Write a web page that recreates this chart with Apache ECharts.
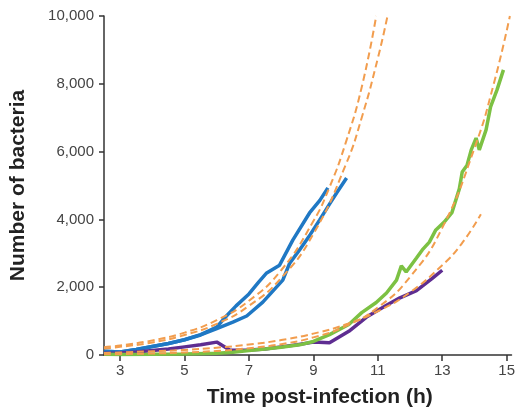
<!DOCTYPE html>
<html>
<head>
<meta charset="utf-8">
<script src="https://cdn.jsdelivr.net/npm/echarts@6/dist/echarts.min.js"></script>
<style>
  html, body { margin: 0; padding: 0; background: #fff; }
  #chart { width: 518px; height: 419px; }
</style>
</head>
<body>
<div id="chart"></div>
<script>
// measured curves, [hours, bacteria]
var blueUpper = [[2.5,110],[3,90],[3.5,160],[4,250],[4.5,340],[5,450],[5.5,600],[6,820],[6.3,1150],[6.6,1450],[7,1800],[7.3,2150],[7.55,2420],[7.95,2650],[8.36,3390],[8.88,4190],[9.2,4560],[9.45,4930]];
var blueLower = [[2.5,110],[3,90],[3.5,160],[4,250],[4.5,340],[5,450],[5.5,590],[6,780],[6.5,970],[6.93,1150],[7.43,1560],[8.05,2210],[8.26,2700],[8.57,3100],[8.9,3550],[9.19,3980],[9.5,4450],[9.72,4780],[10.03,5220]];
var purple = [[2.5,50],[3,60],[3.5,90],[4,130],[4.5,180],[5,240],[5.5,300],[6,380],[6.4,150],[6.9,140],[7.5,180],[8,240],[8.5,300],[9,380],[9.5,360],[10.1,700],[10.65,1120],[11.27,1470],[11.67,1680],[12.2,1900],[12.7,2270],[13,2500]];
var green = [[2.5,20],[3,15],[4,20],[5,30],[6,50],[6.5,80],[7,130],[7.5,180],[8,230],[8.57,300],[9,400],[9.5,600],[10.1,900],[10.5,1250],[10.95,1550],[11.27,1830],[11.58,2210],[11.73,2630],[11.88,2450],[12.2,2860],[12.38,3100],[12.6,3330],[12.8,3690],[13.06,3920],[13.3,4200],[13.53,4900],[13.62,5400],[13.77,5600],[13.9,6050],[14.05,6400],[14.15,6050],[14.36,6640],[14.5,7320],[14.7,7820],[14.9,8410]];

// dashed fit curves
var fitBlueUpper = [[2.5,230],[3,280],[4,430],[5,660],[6,1030],[7,1600],[8,2500],[9,3950],[9.5,4950],[10,6250],[10.5,7900],[10.95,10000]];
var fitBlueLower = [[2.5,190],[3,240],[4,370],[5,590],[6,920],[7,1450],[8,2270],[9,3570],[10,5600],[10.5,7000],[11,8750],[11.3,10000]];
var fitPurple = [[2.5,60],[3,75],[4,110],[5,150],[6,215],[7,310],[8,440],[9,630],[10,900],[11,1290],[12,1850],[13,2650],[13.6,3280],[14.2,4150]];
var fitGreen = [[2.5,20],[4,45],[5,75],[6,120],[7,200],[8,320],[9,520],[10,850],[11,1400],[12,2300],[13,3750],[14,6100],[14.6,8000],[15.1,10000]];

var xTicks = [3, 5, 7, 9, 11, 13, 15];

var myChart = echarts.init(document.getElementById('chart'));

var solid = function (data, color) {
    return {
        type: 'line', data: data, symbol: 'none', smooth: false,
        lineStyle: { color: color, width: 3.5 }, z: 3
    };
};
var dashed = function (data) {
    return {
        type: 'line', data: data, symbol: 'none', smooth: true,
        lineStyle: { color: '#f29d4e', width: 2, type: [7, 4] }, z: 4
    };
};

var option = {
    animation: false,
    grid: { left: 103, right: 6, top: 16, bottom: 64 },
    xAxis: {
        type: 'value',
        min: 2.5,
        max: 15.15,
        name: 'Time post-infection (h)',
        nameLocation: 'middle',
        nameGap: 32,
        nameTextStyle: { fontSize: 21, fontWeight: 'bold', color: '#222', fontFamily: 'Liberation Sans', padding: [0, 0, 0, 24] },
        axisLine: { lineStyle: { color: '#333', width: 1.5 } },
        axisTick: { show: true, length: 6, customValues: xTicks, lineStyle: { color: '#333', width: 1.5 } },
        axisLabel: { customValues: xTicks, fontSize: 15, color: '#444', margin: 8, fontFamily: 'Liberation Sans' },
        splitLine: { show: false }
    },
    yAxis: {
        type: 'value',
        min: 0,
        max: 10000,
        interval: 2000,
        name: 'Number of bacteria',
        nameLocation: 'middle',
        nameGap: 75,
        nameTextStyle: { fontSize: 21, fontWeight: 'bold', color: '#222', fontFamily: 'Liberation Sans' },
        axisLine: { show: true, lineStyle: { color: '#333', width: 1.5 } },
        axisTick: { show: true, length: 5, lineStyle: { color: '#333', width: 1.5 } },
        axisLabel: {
            fontSize: 15, color: '#444', margin: 10, fontFamily: 'Liberation Sans',
            formatter: function (v) { return v.toLocaleString('en-US'); }
        },
        splitLine: { show: false }
    },
    series: [
        solid(blueUpper, '#1f78c4'),
        solid(blueLower, '#1f78c4'),
        solid(purple, '#5e2d91'),
        solid(green, '#7cc143'),
        dashed(fitBlueUpper),
        dashed(fitBlueLower),
        dashed(fitPurple),
        dashed(fitGreen)
    ]
};

myChart.setOption(option);
</script>
</body>
</html>
